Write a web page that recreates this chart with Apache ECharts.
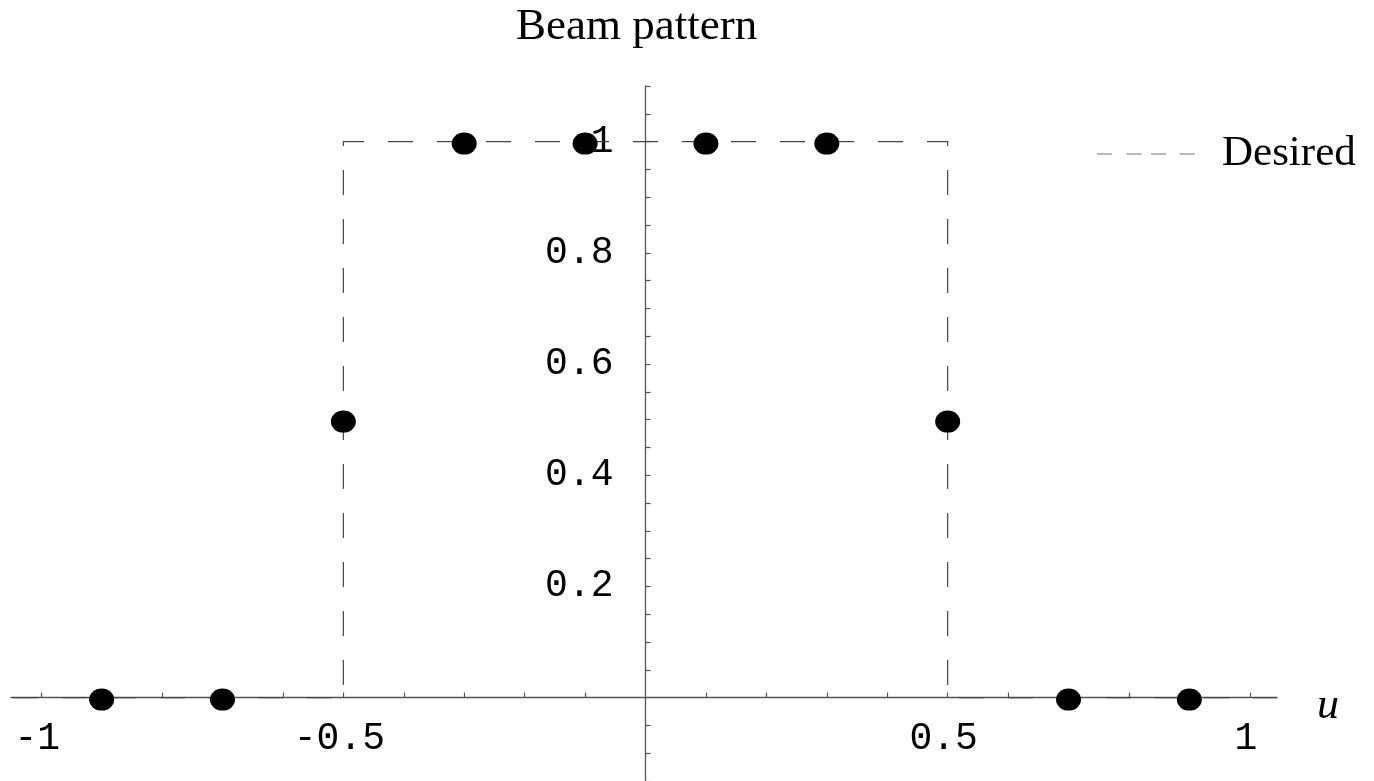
<!DOCTYPE html>
<html>
<head>
<meta charset="utf-8">
<title>Beam pattern</title>
<script src="https://cdn.jsdelivr.net/npm/echarts@6/dist/echarts.min.js"></script>
<style>
  html, body { margin: 0; padding: 0; background: #fff; }
  #chart { width: 1374px; height: 781px; }
</style>
</head>
<body>
<div id="chart"></div>
<script>
// Sampled array response (dots)
const sampleU = [-0.9, -0.7, -0.5, -0.3, -0.1, 0.1, 0.3, 0.5, 0.7, 0.9];
const sampleGain = [0, 0, 0.5, 1, 1, 1, 1, 0.5, 0, 0];

// Desired (ideal) beam pattern: rectangular passband |u| < 0.5
const desiredU = [-1.05, -0.5, -0.5, 0.5, 0.5, 1.045];
const desiredGain = [0, 0, 1, 1, 0, 0];

// Labelled tick values
const xTickLabels = [-1, -0.5, 0.5, 1];
const yTickLabels = [0.2, 0.4, 0.6, 0.8, 1];

// Tick marks: every 0.1 along u, every 0.05 along the gain axis
const xTickMarks = [];
for (let k = -10; k <= 10; k++) { if (k !== 0) xTickMarks.push(k / 10); }
const yTickMarks = [];
for (let k = -3; k <= 22; k++) { if (k !== 0) yTickMarks.push(k * 5 / 100); }

const X_MIN = -1.05, X_MAX = 1.045;
const Y_MIN = -0.15, Y_MAX = 1.1;

const axisGray = '#555';
const monoFont = '"Liberation Mono", "DejaVu Sans Mono", monospace';
const serifFont = '"Liberation Serif", "DejaVu Serif", serif';

// Legend key: four short dashes
const legendDashIcon = 'path://M0,0h15v1.2h-15z M29.5,0h15v1.2h-15z M53.8,0h15v1.2h-15z M82.7,0h15v1.2h-15z';

const gridBox = { left: 11, right: 97, top: 86, bottom: 0 };

const chart = echarts.init(document.getElementById('chart'), null, { renderer: 'canvas' });

chart.setOption({
  backgroundColor: '#ffffff',
  animation: false,
  title: {
    text: 'Beam pattern',
    left: 516,
    top: 5,
    padding: 0,
    textStyle: {
      fontFamily: serifFont,
      fontSize: 45,
      fontWeight: 'normal',
      color: '#000',
      lineHeight: 45
    }
  },
  legend: {
    data: [{ name: 'Desired', icon: legendDashIcon }],
    left: 1097,
    top: 132,
    padding: 0,
    itemWidth: 98,
    itemHeight: 1.3,
    itemStyle: { color: '#777', borderWidth: 0 },
    textStyle: {
      fontFamily: serifFont,
      fontSize: 43,
      color: '#000',
      lineHeight: 44,
      padding: [0, 0, 0, 22]
    },
    selectedMode: false
  },
  grid: {
    left: gridBox.left,
    right: gridBox.right,
    top: gridBox.top,
    bottom: gridBox.bottom,
    containLabel: false,
    outerBoundsMode: 'none'
  },
  xAxis: {
    type: 'value',
    min: X_MIN,
    max: X_MAX,
    position: 'bottom',
    name: '{u|u}',
    nameLocation: 'end',
    nameGap: 40,
    nameTextStyle: {
      verticalAlign: 'middle',
      rich: {
        u: {
          fontFamily: serifFont,
          fontStyle: 'italic',
          fontSize: 44,
          color: '#000',
          lineHeight: 44,
          padding: [18, 0, 0, 0]
        }
      }
    },
    axisLine: { show: true, onZero: false, lineStyle: { color: axisGray, width: 1.3 } },
    axisTick: {
      show: true,
      inside: true,
      length: 5,
      customValues: xTickMarks,
      lineStyle: { color: axisGray, width: 1.2 }
    },
    axisLabel: {
      show: true,
      customValues: xTickLabels,
      hideOverlap: false,
      margin: 22,
      fontFamily: monoFont,
      fontSize: 38,
      color: '#000',
      padding: [0, 8, 0, 0]
    },
    splitLine: { show: false },
    minorTick: { show: false }
  },
  yAxis: {
    type: 'value',
    min: Y_MIN,
    max: Y_MAX,
    position: 'left',
    axisLine: { show: true, onZero: false, lineStyle: { color: axisGray, width: 1.3 } },
    axisTick: {
      show: true,
      inside: true,
      length: 5,
      customValues: yTickMarks,
      lineStyle: { color: axisGray, width: 1.2 }
    },
    axisLabel: {
      show: true,
      customValues: yTickLabels,
      hideOverlap: false,
      margin: 32,
      fontFamily: monoFont,
      fontSize: 38,
      color: '#000'
    },
    splitLine: { show: false }
  },
  series: [
    {
      name: 'Desired',
      type: 'line',
      data: desiredU.map(function (u, i) { return [u, desiredGain[i]]; }),
      symbol: 'none',
      silent: true,
      z: 2,
      itemStyle: { color: '#444' },
      lineStyle: {
        color: '#444',
        width: 1.2,
        type: [25, 24],
        dashOffset: 47
      }
    },
    {
      name: 'Samples',
      type: 'scatter',
      data: sampleU.map(function (u, i) { return [u, sampleGain[i]]; }),
      symbol: 'circle',
      symbolSize: [25, 22],
      symbolOffset: [0, 2],
      z: 5,
      itemStyle: { color: '#000', opacity: 1 }
    }
  ]
});

// Move both axes (with their ticks and labels) so they cross at the origin
const origin = chart.convertToPixel({ gridIndex: 0 }, [0, 0]);
const chartH = chart.getHeight();
chart.setOption({
  xAxis: { offset: -((chartH - gridBox.bottom) - origin[1]) },
  yAxis: { offset: -(origin[0] - gridBox.left) }
});
</script>
</body>
</html>
